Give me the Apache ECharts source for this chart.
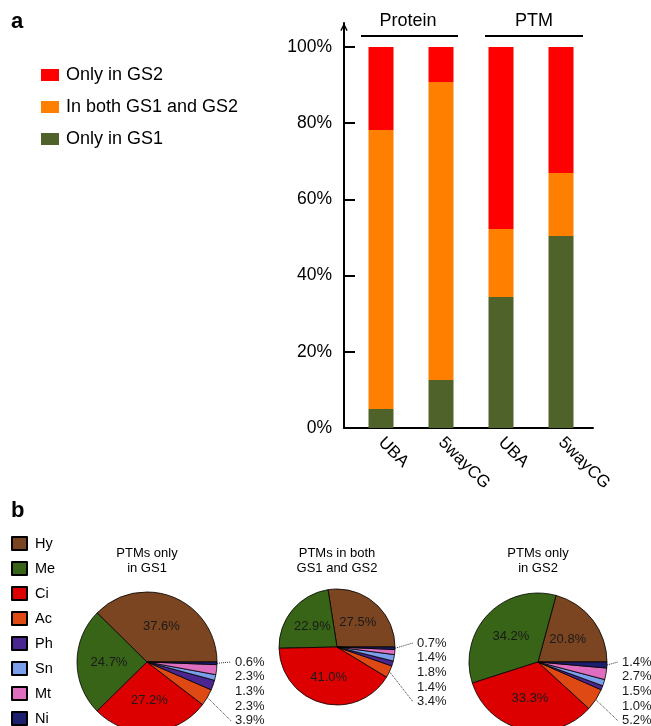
<!DOCTYPE html>
<html>
<head>
<meta charset="utf-8">
<script src="https://cdn.jsdelivr.net/npm/echarts@6/dist/echarts.min.js"></script>
<style>
  html, body { margin: 0; padding: 0; background: #fff; }
  #chart { width: 651px; height: 726px; }
</style>
</head>
<body>
<div id="chart"></div>
<script>
// a: share of identifications per gold standard
const barCategories = ['UBA', '5wayCG', 'UBA', '5wayCG']
const groupLabels = ['Protein', 'PTM']
const onlyInGS1 = [5.0, 12.6, 34.4, 50.4]
const inBothGS = [73.2, 78.2, 17.8, 16.5]
const onlyInGS2 = [21.8, 9.2, 47.8, 33.1]
const yTicks = [0, 20, 40, 60, 80, 100]
const barNames = ['Only in GS2', 'In both GS1 and GS2', 'Only in GS1']

// b: PTM type composition
const ptmTypes = ['Hy', 'Me', 'Ci', 'Ac', 'Ph', 'Sn', 'Mt', 'Ni']
const ptmOnlyGS1 = [37.6, 24.7, 27.2, 3.9, 2.3, 1.3, 2.3, 0.6]
const ptmBoth = [27.5, 22.9, 41.0, 3.4, 1.4, 1.8, 1.4, 0.7]
const ptmOnlyGS2 = [20.8, 34.2, 33.3, 5.2, 1.0, 1.5, 2.7, 1.4]
const pieTitles = ['PTMs only\nin GS1', 'PTMs in both\nGS1 and GS2', 'PTMs only\nin GS2']

const FONT = '"Liberation Sans", Arial, Helvetica, sans-serif'
const ptmColors = ['#7a4520', '#386417', '#dd0000', '#df4914', '#4b2590', '#7b9fea', '#e06ec0', '#1c1f6e']
const barColors = { gs2: '#ff0000', both: '#ff8000', gs1: '#4f622a' }
const Y_MAX = 106.3 // leaves room for the axis arrow above 100%

// pie placement (pixels)
const pieLayout = [
  { cx: 147, cy: 662, r: 70, lx: 235, ly: 662 },
  { cx: 337, cy: 647, r: 58, lx: 417, ly: 643 },
  { cx: 538, cy: 662, r: 69, lx: 622, ly: 662 }
]
const pieValues = [ptmOnlyGS1, ptmBoth, ptmOnlyGS2]

const chart = echarts.init(document.getElementById('chart'))

// bars sit in grid 1 (slightly inset), the visible axes frame belongs to grid 0
const barSeries = [
  { name: 'Only in GS1', data: onlyInGS1, color: barColors.gs1 },
  { name: 'In both GS1 and GS2', data: inBothGS, color: barColors.both },
  { name: 'Only in GS2', data: onlyInGS2, color: barColors.gs2 }
].map(s => ({
  name: s.name,
  type: 'bar',
  stack: 'total',
  xAxisIndex: 1,
  yAxisIndex: 1,
  barWidth: 25,
  data: s.data,
  itemStyle: { color: s.color },
  silent: true
}))

const pieSeries = pieValues.map((vals, k) => {
  const L = pieLayout[k]
  return {
    type: 'pie',
    center: [L.cx, L.cy],
    radius: L.r,
    startAngle: 0,
    clockwise: false,
    avoidLabelOverlap: false,
    silent: true,
    itemStyle: { borderColor: '#000', borderWidth: 0.8 },
    label: {
      show: true,
      fontFamily: FONT,
      fontSize: 13,
      color: '#1a1a1a',
      formatter: p => p.value.toFixed(1) + '%'
    },
    labelLine: {
      length: 10,
      length2: 10,
      lineStyle: { color: '#333', width: 1, type: 'dotted' }
    },
    labelLayout: p => {
      if (p.dataIndex < 3) return {}
      // small slices listed top-down at the right of the pie
      const rank = ptmTypes.length - 1 - p.dataIndex
      const y = L.ly + rank * 14.7
      const out = { x: L.lx, y: y, align: 'left', verticalAlign: 'middle' }
      if (p.labelLinePoints) {
        out.labelLinePoints = [p.labelLinePoints[0], [L.lx - 4, y]]
      }
      return out
    },
    data: ptmTypes.map((name, i) => ({
      name: name,
      value: vals[i],
      itemStyle: { color: ptmColors[i] },
      label: { position: i < 3 ? 'inside' : 'outside' },
      labelLine: { show: i === 3 || i === 7 }
    }))
  }
})

const textEl = (text, x, y, size, extra) => ({
  type: 'text',
  silent: true,
  style: Object.assign({
    text: text, x: x, y: y,
    font: `${size}px ${FONT}`,
    fill: '#000',
    textAlign: 'center',
    textVerticalAlign: 'top'
  }, extra || {})
})

const option = {
  animation: false,
  backgroundColor: '#fff',
  textStyle: { fontFamily: FONT },
  grid: [
    { left: 344, right: 58, top: 23, bottom: 298 },
    { left: 351, right: 60, top: 23, bottom: 298 }
  ],
  legend: [
    {
      data: barNames,
      orient: 'vertical',
      left: 41,
      top: 66,
      padding: 0,
      itemWidth: 18,
      itemHeight: 12,
      itemGap: 14,
      selectedMode: false,
      icon: 'rect',
      textStyle: { fontSize: 18, color: '#000', fontFamily: FONT, padding: [0, 0, 0, 2] }
    },
    {
      data: ptmTypes,
      orient: 'vertical',
      left: 11,
      top: 536,
      height: 200,
      padding: 0,
      itemWidth: 15,
      itemHeight: 13,
      itemGap: 10,
      selectedMode: false,
      icon: 'rect',
      textStyle: { fontSize: 14.5, lineHeight: 14, color: '#000', fontFamily: FONT, padding: [0, 0, 0, 3] }
    }
  ],
  xAxis: [
    {
      type: 'category',
      gridIndex: 0,
      data: barCategories,
      axisLine: { lineStyle: { color: '#000', width: 2 } },
      axisTick: { show: false },
      axisLabel: { show: false }
    },
    {
      type: 'category',
      gridIndex: 1,
      data: barCategories,
      axisLine: { show: false },
      axisTick: { show: false },
      axisLabel: { rotate: -45, interval: 0, fontSize: 17, color: '#000', margin: 12, fontFamily: FONT }
    }
  ],
  yAxis: [
    {
      type: 'value',
      gridIndex: 0,
      min: 0,
      max: Y_MAX,
      axisLine: {
        show: true,
        symbol: ['none', 'path://M0,10 L5,0 L10,10 L8.2,10.9 L5,3.8 L1.8,10.9 Z'],
        symbolSize: [9, 8],
        symbolOffset: [0, -4],
        lineStyle: { color: '#000', width: 2 }
      },
      axisTick: { show: true, inside: true, length: 11, customValues: yTicks, lineStyle: { color: '#000', width: 2 } },
      axisLabel: { customValues: yTicks, formatter: '{value}%', fontSize: 17.5, color: '#000', margin: 12, fontFamily: FONT },
      splitLine: { show: false }
    },
    {
      type: 'value',
      gridIndex: 1,
      min: 0,
      max: Y_MAX,
      show: false
    }
  ],
  graphic: [
    textEl('a', 11, 11, 22, { textAlign: 'left', font: `bold 22px ${FONT}` }),
    textEl('b', 11, 500, 22, { textAlign: 'left', font: `bold 22px ${FONT}` }),
    textEl(groupLabels[0], 408, 12, 18),
    textEl(groupLabels[1], 534, 12, 18),
    { type: 'line', silent: true, shape: { x1: 361, y1: 36, x2: 458, y2: 36 }, style: { stroke: '#000', lineWidth: 2 } },
    { type: 'line', silent: true, shape: { x1: 485, y1: 36, x2: 583, y2: 36 }, style: { stroke: '#000', lineWidth: 2 } },
    textEl(pieTitles[0], 147, 546, 13, { lineHeight: 15 }),
    textEl(pieTitles[1], 337, 546, 13, { lineHeight: 15 }),
    textEl(pieTitles[2], 538, 546, 13, { lineHeight: 15 })
  ],
  series: barSeries.concat(pieSeries)
}

chart.setOption(option)
</script>
</body>
</html>
